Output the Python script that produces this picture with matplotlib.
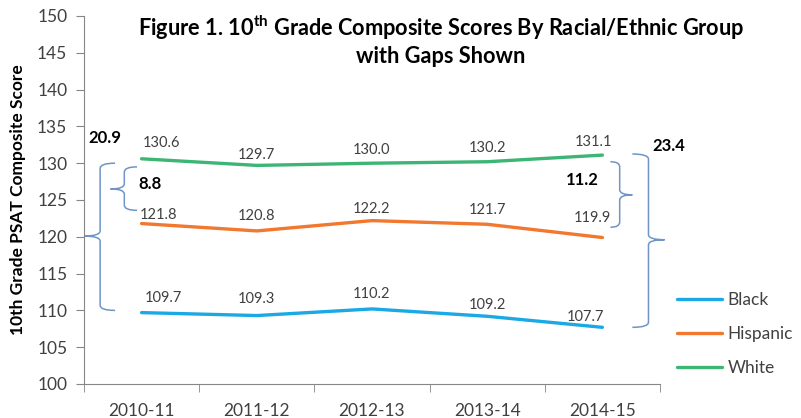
import matplotlib.pyplot as plt
from matplotlib.path import Path
from matplotlib.patches import PathPatch

plt.rcParams["font.family"] = ["Lato", "DejaVu Sans"]
plt.rcParams["mathtext.fontset"] = "custom"
plt.rcParams["mathtext.bf"] = "Lato:bold"
plt.rcParams["mathtext.rm"] = "Lato"

years = ["2010-11", "2011-12", "2012-13", "2013-14", "2014-15"]
black = [109.7, 109.3, 110.2, 109.2, 107.7]
hispanic = [121.8, 120.8, 122.2, 121.7, 119.9]
white = [130.6, 129.7, 130.0, 130.2, 131.1]

series = [("Black", black, "#1BA9E6"),
          ("Hispanic", hispanic, "#F2772F"),
          ("White", white, "#3DB574")]

# label nudges (data units) per series, per year
label_dx = {"Black": [0.19, 0, 0, 0, -0.15],
            "Hispanic": [0.15, 0, 0, 0, -0.09],
            "White": [0.17, 0, 0, 0, -0.08]}
label_dy = {"Black": [2.0, 2.2, 2.0, 1.6, 1.4],
            "Hispanic": [1.2, 2.0, 1.6, 1.9, 2.7],
            "White": [2.2, 1.4, 1.8, 1.9, 1.8]}

# gaps: (label, x_end, x_vert, x_tip, y_top, y_bot, y_tip, label x, label y)
gaps = [
    ("20.9", -0.23, -0.36, -0.50, 130.0, 110.0, 120.1, -0.46, 133.4),
    ("8.8", -0.04, -0.15, -0.27, 129.5, 123.6, 126.5, -0.03, 127.2),
    ("11.2", 4.07, 4.15, 4.26, 130.2, 121.3, 125.7, 3.68, 127.7),
    ("23.4", 4.26, 4.40, 4.54, 131.25, 107.7, 119.6, 4.43, 132.3),
]

brace_color = "#6F94C8"
grey = "#868686"

fig = plt.figure(figsize=(8.01, 4.18), dpi=100)
ax = fig.add_axes([84 / 801, 1 - 384 / 418, 576 / 801, 368 / 418])

x = list(range(len(years)))
for name, vals, col in series:
    ax.plot(x, vals, color=col, lw=2.4, label=name, solid_capstyle="round")
    for xi, v in enumerate(vals):
        ax.text(xi + label_dx[name][xi], v + label_dy[name][xi], f"{v:.1f}",
                ha="center", va="center", fontsize=10.5, color="#404040")

ax.set_xlim(-0.5, 4.5)
ax.set_ylim(100, 150)
ax.set_yticks(range(100, 151, 5))
ax.set_xticks(x)
ax.set_xticklabels(years)
ax.set_xticks([i - 0.5 for i in range(len(years) + 1)], minor=True)
ax.tick_params(axis="x", which="major", length=0, pad=14, labelsize=12.5,
               colors="#404040")
ax.tick_params(axis="x", which="minor", length=6, color=grey)
ax.tick_params(axis="y", length=6, color=grey, labelsize=12.5,
               labelcolor="#404040", pad=6)
for s in ["top", "right"]:
    ax.spines[s].set_visible(False)
for s in ["left", "bottom"]:
    ax.spines[s].set_color(grey)

ax.set_ylabel("10th Grade PSAT Composite Score", fontsize=12.5,
              fontweight="bold", labelpad=8)


def brace(xe, xv, xt, yt, yb, ym, r=0.7):
    verts = [(xe, yt), (xv, yt), (xv, yt - r),
             (xv, ym + r), (xv, ym), (xt, ym),
             (xv, ym), (xv, ym - r),
             (xv, yb + r), (xv, yb), (xe, yb)]
    codes = [Path.MOVETO, Path.CURVE3, Path.CURVE3,
             Path.LINETO, Path.CURVE3, Path.CURVE3,
             Path.CURVE3, Path.CURVE3,
             Path.LINETO, Path.CURVE3, Path.CURVE3]
    return PathPatch(Path(verts, codes), fc="none", ec=brace_color, lw=1.1,
                     clip_on=False)


for lab, xe, xv, xt, yt, yb, ym, lx, ly in gaps:
    ax.add_patch(brace(xe, xv, xt, yt, yb, ym))
    ax.text(lx, ly, lab, fontsize=12, fontweight="bold", color="black",
            ha="left", va="center")

fig.text(441 / 801, 1 - 40 / 418,
         "Figure 1. 10$^{\\mathbf{th}}$ Grade Composite Scores By Racial/Ethnic Group\nwith Gaps Shown",
         ha="center", va="center", fontsize=15.7, fontweight="bold",
         linespacing=1.25)

leg = ax.legend(loc="upper left", bbox_to_anchor=(586 / 576, 0.27),
                frameon=False, fontsize=12.5, handlelength=2.6,
                handletextpad=0.3, labelspacing=1.05, borderaxespad=0)
for t in leg.get_texts():
    t.set_color("#404040")

fig.savefig("out.png", dpi=100)
